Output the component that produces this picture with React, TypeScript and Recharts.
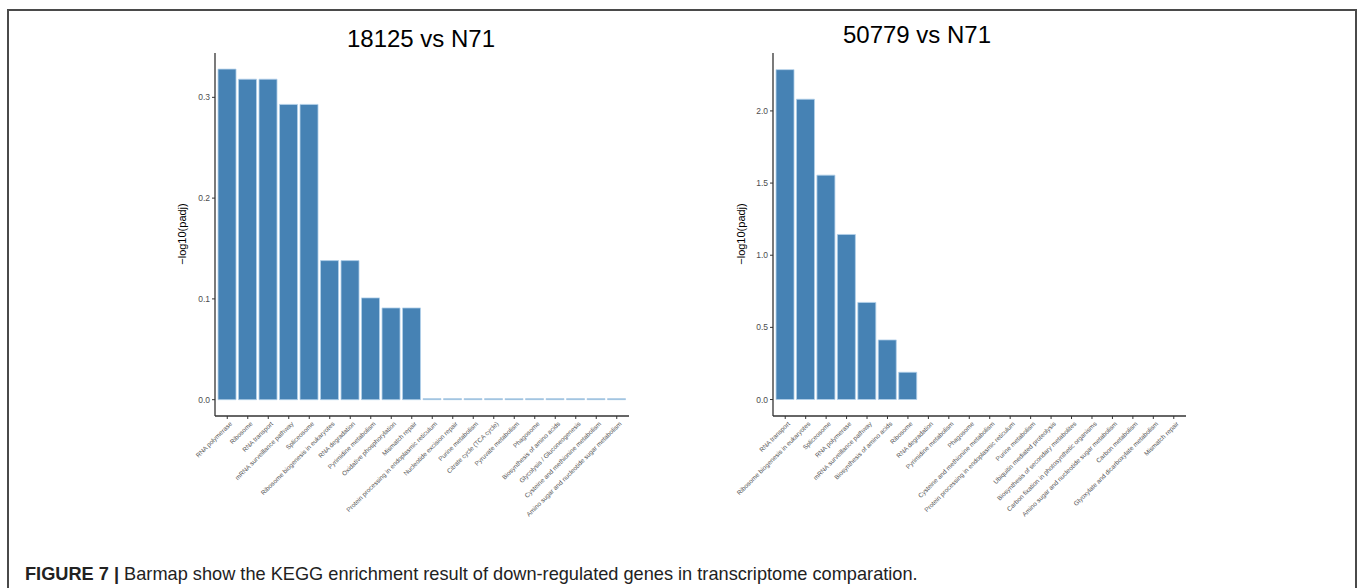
import { BarChart, Bar, XAxis, YAxis } from 'recharts'

const leftCategories = [
  'RNA polymerase',
  'Ribosome',
  'RNA transport',
  'mRNA surveillance pathway',
  'Spliceosome',
  'Ribosome biogenesis in eukaryotes',
  'RNA degradation',
  'Pyrimidine metabolism',
  'Oxidative phosphorylation',
  'Mismatch repair',
  'Protein processing in endoplasmic reticulum',
  'Nucleotide excision repair',
  'Purine metabolism',
  'Citrate cycle (TCA cycle)',
  'Pyruvate metabolism',
  'Phagosome',
  'Biosynthesis of amino acids',
  'Glycolysis / Gluconeogenesis',
  'Cysteine and methionine metabolism',
  'Amino sugar and nucleotide sugar metabolism',
]
const leftValues = [
  0.328, 0.318, 0.318, 0.293, 0.293, 0.138, 0.138, 0.101, 0.091, 0.091,
  0.001, 0.001, 0.001, 0.001, 0.001, 0.001, 0.001, 0.001, 0.001, 0.001,
]
const leftTicks = [0, 0.1, 0.2, 0.3]

const rightCategories = [
  'RNA transport',
  'Ribosome biogenesis in eukaryotes',
  'Spliceosome',
  'RNA polymerase',
  'mRNA surveillance pathway',
  'Biosynthesis of amino acids',
  'Ribosome',
  'RNA degradation',
  'Pyrimidine metabolism',
  'Phagosome',
  'Cysteine and methionine metabolism',
  'Protein processing in endoplasmic reticulum',
  'Purine metabolism',
  'Ubiquitin mediated proteolysis',
  'Biosynthesis of secondary metabolites',
  'Carbon fixation in photosynthetic organisms',
  'Amino sugar and nucleotide sugar metabolism',
  'Carbon metabolism',
  'Glyoxylate and dicarboxylate metabolism',
  'Mismatch repair',
]
const rightValues = [
  2.286, 2.081, 1.555, 1.144, 0.673, 0.413, 0.189, 0, 0, 0,
  0, 0, 0, 0, 0, 0, 0, 0, 0, 0,
]
const rightTicks = [0, 0.5, 1, 1.5, 2]

const FONT = '"Liberation Sans", Arial, Helvetica, sans-serif'
const BAR_FILL = '#4682B4'
const AXIS_COLOR = '#333333'

const XTick = ({ x, y, payload }: any) => (
  <g transform={`translate(${x + 2},${y})`}>
    <text
      textAnchor="end"
      transform="rotate(-45)"
      dy="0.7em"
      fontSize={6.4}
      fill="#555"
      fontFamily={FONT}
    >
      {payload.value}
    </text>
  </g>
)

type PanelProps = {
  categories: string[]
  values: number[]
  ticks: number[]
  domain: [number, number]
  plotLeft: number
  plotWidth: number
  left: number
}

const Panel = ({ categories, values, ticks, domain, plotLeft, plotWidth, left }: PanelProps) => {
  const data = categories.map((name, i) => ({ name, value: values[i] }))
  const width = 680
  const height = 588
  const yAxisWidth = 30
  const plotTop = 53
  const plotBottom = 416
  const xAxisHeight = 100
  return (
    <div style={{ position: 'absolute', left, top: 0 }}>
      <BarChart
        width={width}
        height={height}
        data={data}
        barCategoryGap="5%"
        margin={{
          top: plotTop,
          left: plotLeft - left - yAxisWidth,
          right: width - (plotLeft - left) - plotWidth,
          bottom: height - plotBottom - xAxisHeight,
        }}
      >
        <XAxis
          dataKey="name"
          interval={0}
          height={xAxisHeight}
          padding={{ left: 2, right: 2 }}
          tick={<XTick />}
          tickSize={3}
          tickMargin={2}
          axisLine={{ stroke: AXIS_COLOR, strokeWidth: 1.3 }}
          tickLine={{ stroke: AXIS_COLOR }}
        />
        <YAxis
          type="number"
          width={yAxisWidth}
          domain={domain}
          ticks={ticks}
          allowDataOverflow
          tickFormatter={(v: number) => v.toFixed(1)}
          tick={{ fontSize: 8.5, fill: '#4d4d4d', fontFamily: FONT }}
          tickSize={3}
          tickMargin={2}
          axisLine={{ stroke: AXIS_COLOR, strokeWidth: 1.3 }}
          tickLine={{ stroke: AXIS_COLOR }}
        />
        <Bar
          dataKey="value"
          fill={BAR_FILL}
          stroke="#b3d1ea"
          strokeWidth={0.8}
          isAnimationActive={false}
        />
      </BarChart>
    </div>
  )
}

const App = () => {
  return (
    <div
      style={{
        position: 'absolute',
        left: 0,
        top: 0,
        width: 1360,
        height: 588,
        overflow: 'hidden',
        background: '#fff',
        fontFamily: FONT,
      }}
    >
      <div
        style={{
          position: 'absolute',
          left: 7,
          top: 9,
          width: 1346,
          height: 620,
          borderTop: '2px solid #4a4a4a',
          borderLeft: '2px solid #4a4a4a',
          borderRight: '2px solid #4a4a4a',
        }}
      />
      <Panel
        categories={leftCategories}
        values={leftValues}
        ticks={leftTicks}
        domain={[-0.0162, 0.344]}
        plotLeft={215}
        plotWidth={414}
        left={0}
      />
      <Panel
        categories={rightCategories}
        values={rightValues}
        ticks={rightTicks}
        domain={[-0.1142, 2.4014]}
        plotLeft={773}
        plotWidth={413}
        left={680}
      />
      <svg
        width={1360}
        height={588}
        style={{ position: 'absolute', left: 0, top: 0, pointerEvents: 'none' }}
      >
        <text x={421} y={47} textAnchor="middle" fontSize={24} fontFamily={FONT} fill="#000">
          18125 vs N71
        </text>
        <text x={917} y={43} textAnchor="middle" fontSize={24} fontFamily={FONT} fill="#000">
          50779 vs N71
        </text>
        <text
          transform="translate(186,234) rotate(-90)"
          textAnchor="middle"
          fontSize={11}
          fontFamily={FONT}
          fill="#000"
        >
          −log10(padj)
        </text>
        <text
          transform="translate(745,234) rotate(-90)"
          textAnchor="middle"
          fontSize={11}
          fontFamily={FONT}
          fill="#000"
        >
          −log10(padj)
        </text>
        <text x={25} y={580} fontSize={18.2} fontFamily={FONT} fill="#222">
          <tspan fontWeight="bold">FIGURE 7 | </tspan>
          <tspan>Barmap show the KEGG enrichment result of down-regulated genes in transcriptome comparation.</tspan>
        </text>
      </svg>
    </div>
  )
}

export default App
